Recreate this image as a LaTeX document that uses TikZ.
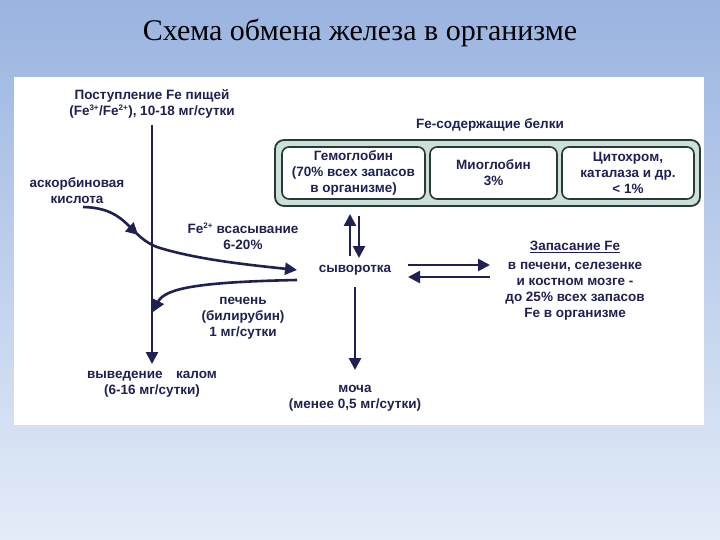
\documentclass[tikz,border=0pt]{standalone}
\usepackage{fontspec}
\setmainfont{Liberation Sans}
\newfontfamily\titlefont{Liberation Serif}
\usetikzlibrary{arrows.meta,decorations.markings}
\definecolor{navy}{HTML}{1F2152}
\definecolor{bgtop}{HTML}{9AB4E0}
\definecolor{bgbot}{HTML}{E4ECF8}
\definecolor{boxfill}{HTML}{CCE0DA}
\definecolor{boxline}{HTML}{2A3838}
\newcommand{\supx}[1]{\textsuperscript{\fontsize{8}{8}\selectfont #1}}
\tikzset{
  lab/.style={font=\bfseries\fontsize{13.5}{16}\selectfont, text=navy, align=center, inner sep=1pt},
  flow/.style={draw=navy, line width=2.6pt, -{Triangle[length=12pt,width=12pt]}},
  ibox/.style={draw=boxline, line width=1.6pt, fill=white, rounded corners=7pt},
  midarrow/.style={postaction={decorate}, decoration={markings, mark=at position #1 with {\arrow{Triangle[length=12pt,width=12pt]}}}}
}
\begin{document}
\begin{tikzpicture}[x=1pt,y=-1pt]
\useasboundingbox (0,0) rectangle (720,540);
\shade[top color=bgtop, bottom color=bgbot] (0,0) rectangle (720,540);
\fill[white] (14,77) rectangle (704,425);
\node[font=\titlefont\fontsize{30}{34}\selectfont] (title) at (360,33) {Схема обмена железа в организме};

\node[lab] (food) at (152,104) {Поступление Fe пищей\\(Fe\supx{3+}/Fe\supx{2+}), 10-18 мг/сутки};
\node[lab] (asc) at (77,191) {аскорбиновая\\кислота};
\node[lab] (abs) at (243,236) {Fe\supx{2+} всасывание\\6-20\%};
\node[lab] (liver) at (243,318) {печень\\(билирубин)\\1 мг/сутки};
\node[lab] (feces) at (152,384) {выведение\quad калом\\(6-16 мг/сутки)};
\node[lab] (serum) at (355,270) {сыворотка};
\node[lab] (urine) at (355,398) {моча\\(менее 0,5 мг/сутки)};
\node[lab] (store) at (575,281) {\underline{Запасание Fe}\\[3pt]в печени, селезенке\\и костном мозге -\\до 25\% всех запасов\\Fe в организме};
\node[lab] (prot) at (490,125) {Fe-содержащие белки};

\draw[fill=boxfill, draw=boxline, line width=1.8pt, rounded corners=9pt] (275,140) rectangle (700,206);
\node[ibox, minimum width=143pt, minimum height=52pt, lab] (hb) at (353.5,173) {Гемоглобин\\(70\% всех запасов\\в организме)};
\node[ibox, minimum width=127pt, minimum height=52pt, lab] (mb) at (493.5,173) {Миоглобин\\3\%};
\node[ibox, minimum width=132pt, minimum height=52pt, lab] (cyt) at (628,173) {Цитохром,\\каталаза и др.\\< 1\%};

\coordinate (ftop) at (152,125);
\coordinate (fbot) at (152,364);
\draw[flow] (ftop) -- (fbot);
\coordinate (ascstart) at (83,207);
\coordinate (absend) at (297,270);
\draw[draw=navy, line width=2.6pt, -{Triangle[length=12pt,width=12pt]}, midarrow=0.28]
  (ascstart) .. controls (130,208) and (128,238) .. (160,248) .. controls (200,260) and (250,265) .. (absend);
\coordinate (lstart) at (297,280);
\coordinate (lend) at (153,312);
\draw[flow] (lstart) .. controls (200,282) and (165,288) .. (lend);

\draw[flow] (350,256) -- (350,214);
\draw[flow] (359,216) -- (359,258);
\draw[flow] (355,287) -- (355,370);
\draw[flow] (408,265) -- (490,265);
\draw[flow] (490,277) -- (408,277);
\end{tikzpicture}
\end{document}
